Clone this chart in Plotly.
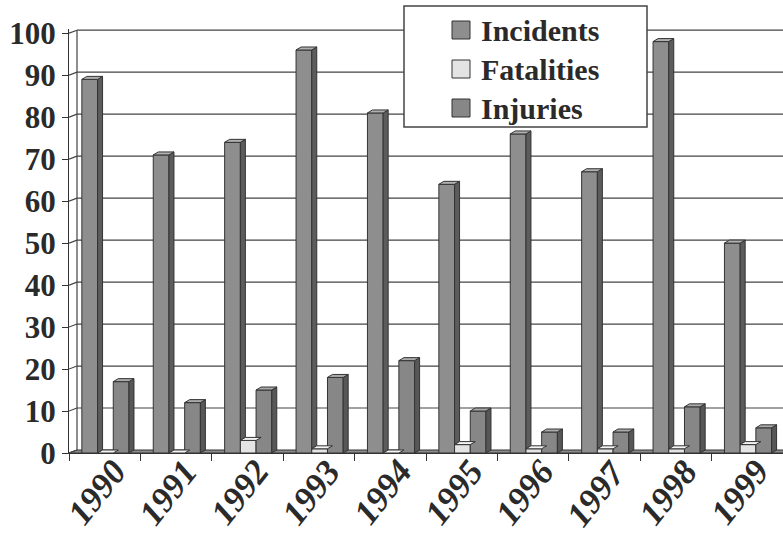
import plotly.graph_objects as go

# ---- data ----
years = ["1990", "1991", "1992", "1993", "1994", "1995", "1996", "1997", "1998", "1999"]
incidents = [89, 71, 74, 96, 81, 64, 76, 67, 98, 50]
fatalities = [0, 0, 3, 1, 0, 2, 1, 1, 1, 2]
injuries = [17, 12, 15, 18, 22, 10, 5, 5, 11, 6]
series_names = ["Incidents", "Fatalities", "Injuries"]

# ---- geometry of the pseudo-3D look ----
W, H = 783, 546
ML, MR, MT, MB = 69, 0, 29, 93
plot_w = W - ML - MR
plot_h = H - MT - MB
YMAX = 101
px_x = plot_w / len(years)          # pixels per category
px_y = plot_h / YMAX                # pixels per value unit

BAR_W = 0.22
OFFSETS = [-0.32, -0.10, 0.12]
BAR_DX = 5 / px_x                   # bar depth (x)
BAR_DY = 3 / px_y                   # bar depth (y)
WALL_DX = 8 / px_x
WALL_DY = 3 / px_y

face = ["#8e8e8e", "#e4e4e4", "#878787"]
side = ["#5c5c5c", "#b4b4b4", "#575757"]
top = ["#b0b0b0", "#f4f4f4", "#aaaaaa"]
EDGE = "#333333"
TEXT = "#2a2a2a"
FONT = "Liberation Serif"

values = [incidents, fatalities, injuries]
x_idx = list(range(len(years)))

fig = go.Figure()

for s, vals in enumerate(values):
    fig.add_trace(go.Bar(
        x=x_idx, y=vals, width=BAR_W, offset=OFFSETS[s],
        marker=dict(color=face[s], line=dict(color=EDGE, width=1)),
        name=series_names[s], showlegend=False,
    ))

for s, vals in enumerate(values):
    sx, sy, tx, ty = [], [], [], []
    for i, v in enumerate(vals):
        xl = i + OFFSETS[s]
        xr = xl + BAR_W
        low = values[s + 1][i] if s < 2 else 0
        if v > low:
            sx += [xr, xr + BAR_DX, xr + BAR_DX, xr, xr, None]
            sy += [low, low + BAR_DY, v + BAR_DY, v, low, None]
        tx += [xl, xr, xr + BAR_DX, xl + BAR_DX, xl, None]
        ty += [v, v, v + BAR_DY, v + BAR_DY, v, None]
    fig.add_trace(go.Scatter(x=sx, y=sy, mode="lines", fill="toself",
                             fillcolor=side[s], line=dict(color=EDGE, width=1),
                             hoverinfo="skip", showlegend=False))
    fig.add_trace(go.Scatter(x=tx, y=ty, mode="lines", fill="toself",
                             fillcolor=top[s], line=dict(color=EDGE, width=1),
                             hoverinfo="skip", showlegend=False))

shapes = []
x_left = -0.5
x_right = len(years) - 0.5
GRID = "#444444"
# floor slab
shapes.append(dict(type="path", xref="x", yref="y", layer="below",
                   path=f"M {x_left},0 L {x_right + 0.2},0 L {x_right + 0.2},{WALL_DY} "
                        f"L {x_left + WALL_DX},{WALL_DY} Z",
                   fillcolor="#8c8c8c", line=dict(color=EDGE, width=1)))
# back wall and side wall grid
for v in range(10, 101, 10):
    shapes.append(dict(type="line", xref="x", yref="y", layer="below",
                       x0=x_left + WALL_DX, x1=x_right + 0.2, y0=v + WALL_DY, y1=v + WALL_DY,
                       line=dict(color=GRID, width=1.2)))
for v in range(0, 101, 10):
    shapes.append(dict(type="line", xref="x", yref="y", layer="below",
                       x0=x_left, x1=x_left + WALL_DX, y0=v, y1=v + WALL_DY,
                       line=dict(color=GRID, width=1.2)))
shapes.append(dict(type="line", xref="x", yref="y", layer="below",
                   x0=x_left + WALL_DX, x1=x_left + WALL_DX, y0=WALL_DY, y1=100 + WALL_DY,
                   line=dict(color=GRID, width=1.2)))

# legend box
def px2paper_x(px):
    return (px - ML) / plot_w

def px2paper_y(py):
    return (H - MB - py) / plot_h

shapes.append(dict(type="rect", xref="paper", yref="paper",
                   x0=px2paper_x(404), x1=px2paper_x(647),
                   y0=px2paper_y(127), y1=px2paper_y(6),
                   fillcolor="white", line=dict(color="#444444", width=1.5)))
annotations = []
row_y = [30, 69, 108]
for s in range(3):
    shapes.append(dict(type="rect", xref="paper", yref="paper",
                       x0=px2paper_x(452), x1=px2paper_x(470),
                       y0=px2paper_y(row_y[s] + 9), y1=px2paper_y(row_y[s] - 9),
                       fillcolor=face[s], line=dict(color=EDGE, width=1)))
    annotations.append(dict(xref="paper", yref="paper", x=px2paper_x(479),
                            y=px2paper_y(row_y[s]), xanchor="left", yanchor="middle",
                            text=series_names[s], showarrow=False,
                            font=dict(family=FONT, size=30, color=TEXT, weight="bold")))

# slanted year labels under each category
for i, yr in enumerate(years):
    annotations.append(dict(xref="x", yref="y", x=i, y=0, text=yr, showarrow=False,
                            textangle=-52, xanchor="right", yanchor="top",
                            xshift=32, yshift=3,
                            font=dict(family=FONT, size=35, color=TEXT,
                                      weight="bold", style="italic")))

fig.update_layout(
    width=W, height=H,
    margin=dict(l=ML, r=MR, t=MT, b=MB, pad=0),
    paper_bgcolor="white", plot_bgcolor="white",
    barmode="overlay",
    shapes=shapes, annotations=annotations,
    showlegend=False,
    xaxis=dict(
        range=[x_left, x_right], tickmode="array", tickvals=x_idx,
        showticklabels=False, ticks="", showgrid=False, zeroline=False,
        showline=True, linecolor=EDGE, linewidth=1,
        minor=dict(ticks="outside", tickmode="linear", tick0=-0.5, dtick=1,
                   ticklen=7, tickcolor=EDGE, tickwidth=1.2, showgrid=False),
    ),
    yaxis=dict(
        range=[0, YMAX], tickmode="array", tickvals=list(range(0, 101, 10)),
        ticks="outside", ticklen=6, tickcolor=EDGE, tickwidth=1.2,
        showgrid=False, zeroline=False, showline=True, linecolor=EDGE, linewidth=1.2,
        tickfont=dict(family=FONT, size=31, color=TEXT, weight="bold"),
    ),
)

fig.write_html("out.html")
